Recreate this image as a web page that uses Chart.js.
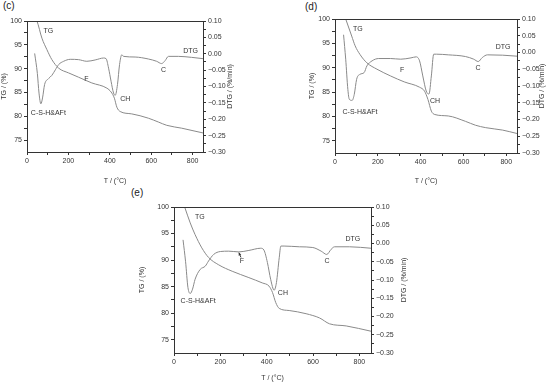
<!DOCTYPE html>
<html>
<head>
<meta charset="utf-8">
<script src="https://cdn.jsdelivr.net/npm/chart.js@4.4.1/dist/chart.umd.min.js"></script>
<style>
  body { margin: 0; background: #fff; }
  #wrap { position: relative; width: 550px; height: 382px; overflow: hidden; font-family: "Liberation Sans", Arial, sans-serif; }
  canvas { position: absolute; }
  .tag { position: absolute; font-size: 10px; color: #222; }
</style>
</head>
<body>
<div id="wrap">
  <span class="tag" style="left:3px;top:0px">(c)</span>
  <span class="tag" style="left:305px;top:1px">(d)</span>
  <span class="tag" style="left:131px;top:187px">(e)</span>
  <canvas id="chartC" style="left:0px;top:0px"></canvas>
  <canvas id="chartD" style="left:308px;top:0px"></canvas>
  <canvas id="chartE" style="left:138px;top:185px"></canvas>
</div>
<script>
// axis ticks (shared by the three panels)
const tTicks = [0, 100, 200, 300, 400, 500, 600, 700, 800];
const tgTicks = [75, 77.5, 80, 82.5, 85, 87.5, 90, 92.5, 95, 97.5, 100];
const dtgTicks = [-0.30, -0.275, -0.25, -0.225, -0.20, -0.175, -0.15, -0.125, -0.10, -0.075, -0.05, -0.025, 0, 0.025, 0.05, 0.075, 0.10];

// panel (c)
const cTgTemp = [45, 48, 72, 96, 120, 153, 201, 249, 313, 386, 406, 422, 434, 450, 506, 586, 634, 675, 747, 850];
const cTg = [100.2, 100, 96.4, 94, 91.9, 90.1, 89.1, 88.2, 87, 85.9, 85.1, 83.8, 81.9, 81, 80.5, 79.6, 78.8, 78.1, 77.5, 76.5];
const cDtgTemp = [37, 50, 58, 67, 75, 85, 104, 120, 137, 153, 177, 209, 249, 289, 329, 370, 382, 394, 406, 418, 426, 437, 447, 458, 466, 522, 586, 626, 650, 667, 683, 731, 795, 850];
const cDtg = [0.001, -0.06, -0.12, -0.153, -0.135, -0.094, -0.076, -0.066, -0.049, -0.033, -0.023, -0.017, -0.018, -0.023, -0.019, -0.013, -0.015, -0.044, -0.084, -0.12, -0.127, -0.094, -0.033, -0.003, -0.008, -0.01, -0.016, -0.023, -0.03, -0.021, -0.008, -0.008, -0.011, -0.015];

// panel (d)
const dTgTemp = [50, 78, 94, 117, 149, 196, 260, 323, 395, 418, 434, 450, 466, 529, 609, 656, 704, 783, 850];
const dTg = [100, 96.5, 94.5, 92.7, 91, 89.7, 88.3, 87.1, 86, 85.2, 83.5, 81.1, 80.4, 80.1, 79, 78.2, 77.7, 77.2, 76.5];
const dDtgTemp = [40, 50, 60, 67, 80, 90, 101, 117, 136, 149, 173, 204, 260, 307, 355, 379, 395, 410, 426, 439, 450, 461, 474, 529, 609, 648, 669, 688, 712, 783, 850];
const dDtg = [0.053, -0.02, -0.11, -0.14, -0.143, -0.125, -0.08, -0.065, -0.06, -0.04, -0.025, -0.018, -0.018, -0.02, -0.016, -0.013, -0.025, -0.07, -0.115, -0.124, -0.07, -0.005, -0.005, -0.007, -0.012, -0.02, -0.027, -0.015, -0.007, -0.008, -0.011];

// panel (e)
const eTgTemp = [46, 70, 91, 120, 149, 193, 251, 323, 381, 410, 425, 439, 454, 497, 570, 628, 671, 743, 850];
const eTg = [100, 97, 94.8, 92.3, 90.5, 89.1, 87.9, 86.7, 85.7, 85.1, 83.9, 82, 80.9, 80.5, 79.9, 79.1, 78, 77.6, 76.6];
const eDtgTemp = [39, 50, 60, 70, 80, 91, 113, 135, 149, 171, 200, 236, 280, 323, 374, 388, 403, 417, 432, 442, 454, 461, 475, 541, 599, 635, 659, 678, 693, 758, 850];
const eDtg = [0.01, -0.05, -0.12, -0.137, -0.125, -0.098, -0.071, -0.062, -0.048, -0.03, -0.022, -0.021, -0.023, -0.019, -0.013, -0.018, -0.052, -0.098, -0.128, -0.107, -0.039, -0.007, -0.007, -0.009, -0.011, -0.021, -0.03, -0.016, -0.009, -0.009, -0.013];

// peak labels, placed in (T, TG) data units
const cNotes = [['TG', 103, 97.9], ['C-S-H&AFt', 103, 80.7], ['F', 287, 87.8], ['CH', 475, 83.6], ['C', 659, 89.7], ['DTG', 790, 93.7]];
const dNotes = [['TG', 107, 97.9], ['C-S-H&AFt', 117, 80.9], ['F', 313, 89.5], ['CH', 467, 83.2], ['C', 668, 89.9], ['DTG', 785, 94.3]];
const eNotes = [['TG', 112, 98.1], ['C-S-H&AFt', 104, 82.2], ['F', 293, 89.8], ['CH', 470, 83.7], ['C', 660, 89.8], ['DTG', 772, 93.9]];

const ink = '#333';
const curve = '#8a8a8a';
const fontCss = '7px "Liberation Sans", Arial, sans-serif';
const font = { family: '"Liberation Sans", Arial, sans-serif', size: 7 };

const fmt = v => {
    const s = v.toFixed(2);
    return v < 0 ? '\u2212' + s.slice(1) : s;
};

const panelPlugin = {
    id: 'panelDecor',
    afterDatasetsDraw(chart, args, opts) {
        const { ctx, chartArea: a, scales } = chart;
        ctx.save();
        ctx.strokeStyle = ink;
        ctx.lineWidth = 1;
        ctx.strokeRect(Math.round(a.left) + 0.5, Math.round(a.top) + 0.5, Math.round(a.right - a.left), Math.round(a.bottom - a.top));
        ctx.fillStyle = ink;
        ctx.font = fontCss;
        ctx.textAlign = 'center';
        ctx.textBaseline = 'middle';
        opts.notes.forEach(([txt, t, tg]) => {
            ctx.fillText(txt, scales.x.getPixelForValue(t), scales.y.getPixelForValue(tg));
        });
        // right axis title, reading bottom to top like the left one
        ctx.save();
        ctx.translate(a.right + opts.rightTitle, (a.top + a.bottom) / 2);
        ctx.rotate(-Math.PI / 2);
        ctx.fillText('DTG / (%/min)', 0, 0);
        ctx.restore();
        if (opts.arrow) {
            const [t0, g0, t1, g1] = opts.arrow;
            const x0 = scales.x.getPixelForValue(t0), y0 = scales.y.getPixelForValue(g0);
            const x1 = scales.x.getPixelForValue(t1), y1 = scales.y.getPixelForValue(g1);
            ctx.beginPath();
            ctx.moveTo(x0, y0);
            ctx.lineTo(x1, y1);
            ctx.stroke();
            const ang = Math.atan2(y1 - y0, x1 - x0);
            ctx.beginPath();
            ctx.moveTo(x1, y1);
            ctx.lineTo(x1 - 3 * Math.cos(ang - 0.5), y1 - 3 * Math.sin(ang - 0.5));
            ctx.lineTo(x1 - 3 * Math.cos(ang + 0.5), y1 - 3 * Math.sin(ang + 0.5));
            ctx.closePath();
            ctx.fill();
        }
        ctx.restore();
    }
};

function pairs(xs, ys) {
    return xs.map((x, i) => ({ x, y: ys[i] }));
}

function axisBase() {
    return {
        grid: { display: true, drawOnChartArea: false, drawTicks: true, tickLength: 3, tickColor: ink },
        border: { color: ink },
        ticks: { color: ink, font, padding: 2 }
    };
}

function makePanel(id, w, h, box, tgT, tg, dtgT, dtg, notes, arrow) {
    const el = document.getElementById(id);
    el.width = w;
    el.height = h;
    el.style.width = w + 'px';
    el.style.height = h + 'px';
    const x = axisBase();
    const y = axisBase();
    const y2 = axisBase();
    return new Chart(el, {
        type: 'line',
        data: {
            datasets: [
                { label: 'TG', data: pairs(tgT, tg), yAxisID: 'y', borderColor: curve, borderWidth: 1, pointRadius: 0, cubicInterpolationMode: 'monotone' },
                { label: 'DTG', data: pairs(dtgT, dtg), yAxisID: 'y2', borderColor: curve, borderWidth: 1, pointRadius: 0, cubicInterpolationMode: 'monotone' }
            ]
        },
        options: {
            responsive: false,
            animation: false,
            events: [],
            layout: { padding: { top: box.top, left: 0, right: 0, bottom: 0 } },
            plugins: { legend: { display: false }, tooltip: { enabled: false }, panelDecor: { notes, arrow, rightTitle: box.rightTitle } },
            scales: {
                x: Object.assign(x, {
                    type: 'linear', min: 0, max: 850,
                    afterBuildTicks: s => { s.ticks = tTicks.map(v => ({ value: v })); },
                    afterFit: s => { s.height = box.bottom; },
                    ticks: Object.assign(x.ticks, { callback: v => (v % 200 === 0 ? String(v) : ''), maxRotation: 0, autoSkip: false }),
                    title: { display: true, text: 'T / (\u00b0C)', color: ink, font, padding: { top: 1, bottom: 0 } }
                }),
                y: Object.assign(y, {
                    position: 'left', min: 72.5, max: 100,
                    afterBuildTicks: s => { s.ticks = tgTicks.map(v => ({ value: v })); },
                    afterFit: s => { s.width = box.left; },
                    ticks: Object.assign(y.ticks, { callback: v => (v % 5 === 0 ? String(v) : ''), autoSkip: false }),
                    title: { display: true, text: 'TG / (%)', color: ink, font, padding: { top: 0, bottom: 1 } }
                }),
                y2: Object.assign(y2, {
                    position: 'right', min: -0.30, max: 0.10,
                    afterBuildTicks: s => { s.ticks = dtgTicks.map(v => ({ value: v })); },
                    afterFit: s => { s.width = box.right; },
                    ticks: Object.assign(y2.ticks, { callback: v => (Math.abs(Math.round(v * 1000)) % 50 === 0 ? fmt(v) : ''), autoSkip: false })
                })
            }
        },
        plugins: [panelPlugin]
    });
}

makePanel('chartC', 237, 185, { top: 21, left: 27, right: 34, bottom: 33, rightTitle: 27 }, cTgTemp, cTg, cDtgTemp, cDtg, cNotes, null);
makePanel('chartD', 239, 185, { top: 19, left: 27, right: 30, bottom: 32, rightTitle: 25 }, dTgTemp, dTg, dDtgTemp, dDtg, dNotes, null);
makePanel('chartE', 271, 197, { top: 22, left: 36, right: 38, bottom: 29, rightTitle: 33 }, eTgTemp, eTg, eDtgTemp, eDtg, eNotes, [289, 90.5, 280, 91.4]);
</script>
</body>
</html>
